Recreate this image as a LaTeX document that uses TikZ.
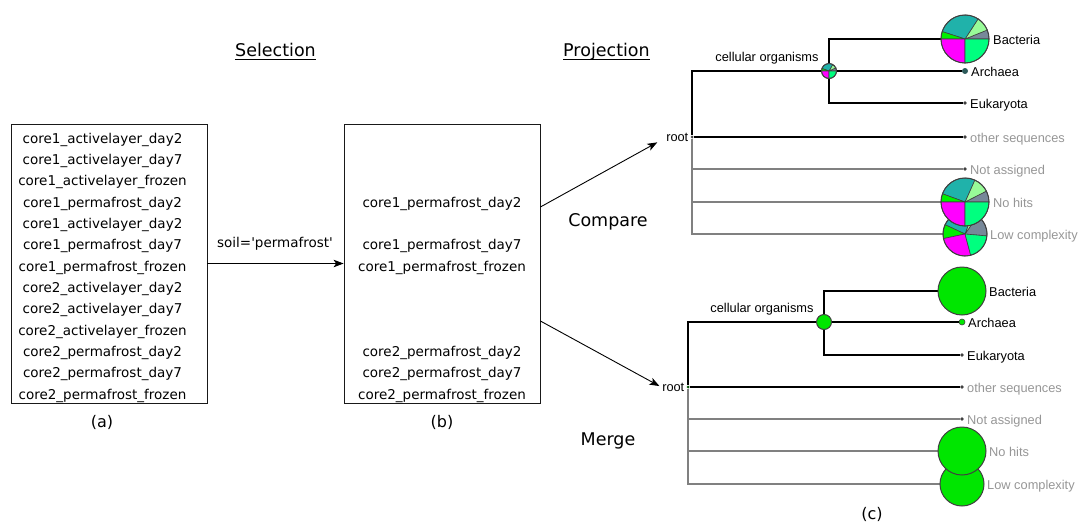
\documentclass[tikz,border=0pt]{standalone}
\usepackage{fontspec}
\setmainfont{DejaVu Sans}
\newfontfamily\treefont{Liberation Sans}
\usetikzlibrary{arrows.meta}

% pie and line colours
\definecolor{pteal}{RGB}{32,178,170}
\definecolor{ppale}{RGB}{152,251,152}
\definecolor{pslate}{RGB}{119,136,153}
\definecolor{pspring}{RGB}{0,255,127}
\definecolor{pmagenta}{RGB}{255,0,255}
\definecolor{plime}{RGB}{0,240,0}
\definecolor{mgreen}{RGB}{0,230,0}
\definecolor{pieedge}{RGB}{64,64,64}
\definecolor{lblgray}{RGB}{150,150,150}
\definecolor{linegray}{RGB}{128,128,128}
\definecolor{archdot}{RGB}{45,90,90}

% pie chart: centre node, radius, list of start/end/colour wedges
\newcommand\drawpie[3]{%
  \foreach \pa/\pb/\pc in {#3} {
    \filldraw[fill=\pc, draw=pieedge, line width=0.6pt]
      (#1.center) -- ++(\pa:#2) arc[start angle=\pa, end angle=\pb, radius=#2] -- cycle;
  }
  \draw[pieedge, line width=1pt] (#1.center) circle[radius=#2];
}
\newcommand\greendisc[2]{%
  \filldraw[fill=mgreen, draw=pieedge, line width=1pt] (#1.center) circle[radius=#2];
}
% empty list line with the height of a full one
\newcommand\blankline{\mbox{\vphantom{l1}}}

\begin{document}
\begin{tikzpicture}[x=1pt, y=-1pt,
  listbox/.style={draw=black!90, line width=0.8pt, inner sep=0pt,
    minimum width=196pt, minimum height=279pt},
  listtext/.style={align=center, inner sep=0pt,
    font=\fontsize{13.5}{21.33}\selectfont},
  heading/.style={inner sep=0pt, font=\fontsize{17.5}{20}\selectfont},
  caption/.style={inner sep=0pt, font=\fontsize{16}{18}\selectfont},
  arr/.style={line width=0.9pt, -{Stealth[length=10pt, width=7.5pt, inset=2.5pt]}},
  treelbl/.style={inner sep=0pt, font=\treefont\fontsize{12.8}{14}\selectfont},
  graylbl/.style={treelbl, text=lblgray},
  leafdot/.style={circle, fill=pieedge, inner sep=0pt, minimum size=3.6pt},
  rootdot/.style={circle, fill=pieedge, inner sep=0pt, minimum size=3pt},
  blackline/.style={line width=1.1pt, black},
  grayline/.style={line width=1.1pt, linegray},
]
\useasboundingbox (0,0) rectangle (1078,522);

% ---- headings ----
\node[heading, anchor=base] (sel) at (275.5,56) {Selection};
\draw[line width=0.9pt] ([yshift=-3.6pt]sel.base west) -- ([yshift=-3.6pt]sel.base east);
\node[heading, anchor=base] (proj) at (606.5,56) {Projection};
\draw[line width=0.9pt] ([yshift=-3.8pt]proj.base west) -- ([yshift=-3.8pt]proj.base east);

% ---- sample lists ----
\node[listbox] (a) at (109,263.5) {};
\node[listtext] (atext) at (102.5,267.5) {%
core1\_activelayer\_day2\\
core1\_activelayer\_day7\\
core1\_activelayer\_frozen\\
core1\_permafrost\_day2\\
core1\_activelayer\_day2\\
core1\_permafrost\_day7\\
core1\_permafrost\_frozen\\
core2\_activelayer\_day2\\
core2\_activelayer\_day7\\
core2\_activelayer\_frozen\\
core2\_permafrost\_day2\\
core2\_permafrost\_day7\\
core2\_permafrost\_frozen};
\node[listbox] (b) at (442,263.5) {};
\node[listtext] (btext) at (442,267.5) {%
\blankline\\ \blankline\\ \blankline\\
core1\_permafrost\_day2\\
\blankline\\
core1\_permafrost\_day7\\
core1\_permafrost\_frozen\\
\blankline\\ \blankline\\ \blankline\\
core2\_permafrost\_day2\\
core2\_permafrost\_day7\\
core2\_permafrost\_frozen};
\node[caption] (capa) at (102,422) {(a)};
\node[caption] (capb) at (442,422) {(b)};
\node[caption, anchor=north] (capc) at (872,507) {(c)};

\draw[arr] (a.east) -- (b.west);
\node[inner sep=0pt, font=\fontsize{13.5}{16}\selectfont] (soil) at (275,244)
  {soil=\textquotesingle permafrost\textquotesingle};

\node[heading] (cmp) at (608,222) {Compare};
\node[heading] (mrg) at (608,441) {Merge};

% ================= compared tree =================
\node[rootdot] (r1) at (692,137) {};
\node[treelbl, anchor=east] (rl1) at (688.5,137.5) {root};
\node[circle, inner sep=0pt, minimum size=15pt] (c1) at (829,71) {};
\node[leafdot, minimum size=0pt] (b1) at (965,39) {};
\node[leafdot, fill=archdot, minimum size=6pt] (a1) at (965,71) {};
\node[leafdot] (e1) at (965,103) {};
\node[leafdot] (o1) at (965,137) {};
\node[leafdot] (n1) at (965,169) {};
\node[leafdot, minimum size=0pt] (h1) at (965,202) {};
\node[leafdot, minimum size=0pt] (l1) at (965,234) {};

\draw[grayline] (r1) |- (n1);
\draw[grayline] (r1) |- (h1);
\draw[grayline] (r1) |- (l1);
\draw[blackline] (r1) |- (c1);
\draw[blackline] (r1) -- (o1);
\draw[blackline] (c1) |- (b1);
\draw[blackline] (c1) -- (a1);
\draw[blackline] (c1) |- (e1);

\drawpie{c1}{7.5pt}{0/25/pslate, 25/60/ppale, 60/160/pteal, 160/180/plime, 180/270/pmagenta, 270/360/pspring}
\drawpie{b1}{24pt}{0/22/pslate, 22/57/ppale, 57/162/pteal, 162/180/plime, 180/270/pmagenta, 270/360/pspring}
\drawpie{l1}{22pt}{-5/55/pslate, 55/70/ppale, 70/155/pteal, 155/192/plime, 192/285/pmagenta, 285/355/pspring}
\drawpie{h1}{24pt}{0/27/pslate, 27/66/ppale, 66/160/pteal, 160/180/plime, 180/270/pmagenta, 270/360/pspring}

\node[treelbl, anchor=base] (cl1) at (767,61) {cellular organisms};
\node[treelbl, anchor=base west] (bl1) at (993,44.5) {Bacteria};
\node[treelbl, anchor=base west] (al1) at (971,76.5) {Archaea};
\node[treelbl, anchor=base west] (el1) at (970,108.5) {Eukaryota};
\node[graylbl, anchor=base west] (ol1) at (970,142.5) {other sequences};
\node[graylbl, anchor=base west] (nl1) at (970,174.5) {Not assigned};
\node[graylbl, anchor=base west] (hl1) at (993,207.5) {No hits};
\node[graylbl, anchor=base west] (ll1) at (990,239.5) {Low complexity};

% ================= merged tree =================
\node[rootdot, fill=black!70!green] (r2) at (688,387) {};
\node[treelbl, anchor=east] (rl2) at (684.5,387.5) {root};
\node[circle, inner sep=0pt, minimum size=15pt] (c2) at (824,322) {};
\node[leafdot, minimum size=0pt] (b2) at (962,291) {};
\node[leafdot, fill=mgreen, draw=pieedge, line width=0.6pt, minimum size=6pt] (a2) at (962,322) {};
\node[leafdot] (e2) at (962,355) {};
\node[leafdot] (o2) at (962,387) {};
\node[leafdot] (n2) at (962,419) {};
\node[leafdot, minimum size=0pt] (h2) at (962,451) {};
\node[leafdot, minimum size=0pt] (l2) at (962,484) {};

\draw[grayline] (r2) |- (n2);
\draw[grayline] (r2) |- (h2);
\draw[grayline] (r2) |- (l2);
\draw[blackline] (r2) |- (c2);
\draw[blackline] (r2) -- (o2);
\draw[blackline] (c2) |- (b2);
\draw[blackline] (c2) -- (a2);
\draw[blackline] (c2) |- (e2);

\greendisc{c2}{7.5pt}
\greendisc{b2}{24pt}
\greendisc{l2}{22pt}
\greendisc{h2}{24pt}

\node[treelbl, anchor=base] (cl2) at (762,312) {cellular organisms};
\node[treelbl, anchor=base west] (bl2) at (989,296.5) {Bacteria};
\node[treelbl, anchor=base west] (al2) at (968,327.5) {Archaea};
\node[treelbl, anchor=base west] (el2) at (967,360.5) {Eukaryota};
\node[graylbl, anchor=base west] (ol2) at (967,392.5) {other sequences};
\node[graylbl, anchor=base west] (nl2) at (967,424.5) {Not assigned};
\node[graylbl, anchor=base west] (hl2) at (989,456.5) {No hits};
\node[graylbl, anchor=base west] (ll2) at (987,489.5) {Low complexity};

% ---- projection arrows ----
\draw[arr, shorten >=10pt] ([yshift=56.5pt]b.east) -- (rl1.west);
\draw[arr, shorten >=3pt] ([yshift=-57.5pt]b.east) -- (rl2.west);
\end{tikzpicture}
\end{document}
